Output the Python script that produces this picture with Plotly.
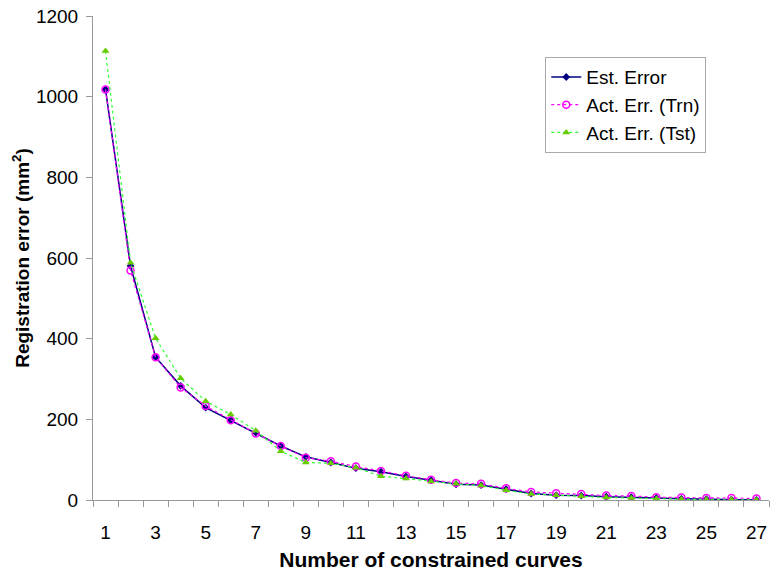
import plotly.graph_objects as go

curves = list(range(1, 28))
est_error = [1018, 580, 354, 283, 229, 198, 167, 134, 107, 93, 79, 70, 58, 49, 39, 37, 27, 16, 12, 11, 8, 7, 5, 3, 2, 1, 0]
act_trn = [1018, 569, 354, 279, 233, 198, 165, 134, 105, 96, 83, 72, 60, 50, 42, 40, 29, 20, 17, 15, 11, 10, 7, 6, 5, 5, 4]
act_tst = [1113, 588, 401, 302, 245, 212, 172, 121, 93, 91, 80, 59, 53, 46, 40, 36, 24, 15, 12, 9, 6, 5, 3, 2, 1, 1, 0]
x_ticks = list(range(1, 28, 2))
y_ticks = [0, 200, 400, 600, 800, 1000, 1200]

fig = go.Figure()
fig.add_trace(go.Scatter(
    x=curves, y=est_error, name="Est. Error", mode="lines+markers",
    line=dict(color="#000080", width=1.5),
    marker=dict(symbol="diamond", size=6, color="#000080")))
fig.add_trace(go.Scatter(
    x=curves, y=act_trn, name="Act. Err. (Trn)", mode="lines+markers",
    line=dict(color="#ff00ff", width=1.2, dash="dot"),
    marker=dict(symbol="circle-open", size=7, color="#ff00ff", line=dict(width=1.5))))
fig.add_trace(go.Scatter(
    x=curves, y=act_tst, name="Act. Err. (Tst)", mode="lines+markers",
    line=dict(color="#33ff33", width=1.2, dash="dot"),
    marker=dict(symbol="triangle-up", size=7, color="#66cc00")))

axis_gray = "#999999"
fig.update_layout(
    width=781, height=572,
    margin=dict(l=93, r=12, t=16, b=72, autoexpand=False),
    paper_bgcolor="white", plot_bgcolor="white",
    font=dict(family="Liberation Sans, Arial, sans-serif", size=19, color="black"),
    showlegend=True,
    legend=dict(x=0.669, y=0.915, xanchor="left", yanchor="top",
                bordercolor="#aaaaaa", borderwidth=1, bgcolor="white",
                font=dict(size=19), tracegroupgap=0, itemwidth=30),
    xaxis=dict(
        range=[0.5, 27.5], tickmode="array", tickvals=x_ticks,
        ticktext=[str(v) for v in x_ticks], ticks="", showgrid=False,
        showline=True, linecolor=axis_gray, linewidth=1, zeroline=False,
        ticklabelstandoff=15, automargin=False,
        tickfont=dict(size=19),
        minor=dict(tick0=0.5, dtick=1, ticks="outside", ticklen=6,
                   tickcolor=axis_gray, showgrid=False),
        title=dict(text="<b>Number of constrained curves</b>", font=dict(size=21), standoff=10),
    ),
    yaxis=dict(
        range=[0, 1200], tickmode="array", tickvals=y_ticks,
        ticks="outside", ticklen=6, tickcolor=axis_gray, showgrid=False,
        showline=True, linecolor=axis_gray, linewidth=1, zeroline=False,
        ticklabelstandoff=4, automargin=False,
        tickfont=dict(size=19),
        title=dict(text="<b>Registration error (mm<sup>2</sup>)</b>", font=dict(size=19), standoff=1),
    ),
)

fig.write_html("out.html", config={"displayModeBar": False},
               post_script="document.body.style.margin='0';")
